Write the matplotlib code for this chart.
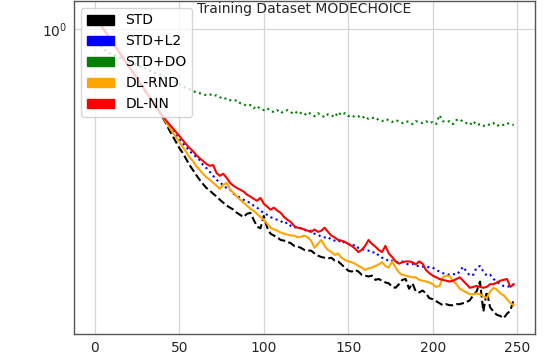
import matplotlib
matplotlib.use("Agg")
import matplotlib.pyplot as plt
import matplotlib.patches as mpatches

epochs = list(range(0, 250, 2))
labels = ["STD", "STD+L2", "STD+DO", "DL-RND", "DL-NN"]
colors = ["black", "blue", "green", "orange", "red"]

std = [1.097, 1.058, 1.020, 0.984, 0.948, 0.914, 0.881, 0.850, 0.819, 0.790,
       0.762, 0.734, 0.708, 0.682, 0.658, 0.634, 0.612, 0.590, 0.569, 0.548,
       0.524, 0.502, 0.477, 0.457, 0.437, 0.418, 0.403, 0.386, 0.369, 0.356,
       0.343, 0.331, 0.321, 0.312, 0.306, 0.299, 0.293, 0.286, 0.280, 0.274,
       0.270, 0.266, 0.260, 0.256, 0.252, 0.258, 0.260, 0.247, 0.235, 0.232,
       0.254, 0.233, 0.223, 0.220, 0.217, 0.213, 0.212, 0.210, 0.208, 0.204,
       0.203, 0.201, 0.198, 0.197, 0.197, 0.193, 0.190, 0.188, 0.187, 0.186,
       0.187, 0.183, 0.182, 0.178, 0.174, 0.170, 0.169, 0.171, 0.169, 0.165,
       0.164, 0.163, 0.164, 0.159, 0.160, 0.158, 0.156, 0.155, 0.151, 0.150,
       0.154, 0.159, 0.160, 0.149, 0.155, 0.146, 0.145, 0.147, 0.144, 0.139,
       0.138, 0.136, 0.134, 0.132, 0.133, 0.132, 0.132, 0.133, 0.133, 0.134,
       0.135, 0.137, 0.142, 0.146, 0.157, 0.126, 0.146, 0.130, 0.126, 0.123,
       0.122, 0.120, 0.124, 0.127, 0.138]

std_l2 = [1.097, 1.058, 1.020, 0.984, 0.948, 0.914, 0.881, 0.850, 0.819, 0.790,
          0.762, 0.734, 0.708, 0.682, 0.658, 0.634, 0.612, 0.590, 0.569, 0.548,
          0.528, 0.509, 0.491, 0.474, 0.460, 0.446, 0.433, 0.421, 0.409, 0.400,
          0.391, 0.383, 0.369, 0.361, 0.351, 0.341, 0.331, 0.326, 0.317, 0.312,
          0.308, 0.299, 0.295, 0.290, 0.286, 0.282, 0.280, 0.274, 0.270, 0.264,
          0.260, 0.256, 0.252, 0.249, 0.247, 0.245, 0.240, 0.242, 0.236, 0.233,
          0.235, 0.232, 0.230, 0.226, 0.228, 0.223, 0.2215, 0.218, 0.217, 0.218,
          0.213, 0.212, 0.210, 0.213, 0.208, 0.207, 0.204, 0.2057, 0.201, 0.200,
          0.198, 0.197, 0.194, 0.195, 0.190, 0.187, 0.186, 0.182, 0.183, 0.181,
          0.181, 0.182, 0.179, 0.178, 0.179, 0.176, 0.176, 0.175, 0.176, 0.174,
          0.174, 0.171, 0.169, 0.167, 0.166, 0.165, 0.166, 0.165, 0.169, 0.175,
          0.169, 0.164, 0.165, 0.174, 0.176, 0.169, 0.164, 0.165, 0.160, 0.157,
          0.154, 0.152, 0.151, 0.152, 0.154]

std_do = [0.950, 0.910, 0.881, 0.856, 0.843, 0.831, 0.825, 0.813, 0.807, 0.796,
          0.790, 0.778, 0.773, 0.762, 0.756, 0.750, 0.739, 0.734, 0.723, 0.718,
          0.708, 0.703, 0.692, 0.687, 0.677, 0.668, 0.658, 0.649, 0.644, 0.634,
          0.630, 0.625, 0.620, 0.616, 0.620, 0.612, 0.616, 0.607, 0.598, 0.603,
          0.594, 0.590, 0.594, 0.581, 0.577, 0.569, 0.573, 0.560, 0.569, 0.556,
          0.552, 0.560, 0.548, 0.544, 0.552, 0.540, 0.548, 0.552, 0.544, 0.536,
          0.548, 0.540, 0.532, 0.544, 0.536, 0.528, 0.540, 0.532, 0.524, 0.536,
          0.532, 0.524, 0.544, 0.532, 0.540, 0.528, 0.532, 0.524, 0.528, 0.520,
          0.528, 0.517, 0.520, 0.524, 0.513, 0.509, 0.517, 0.513, 0.506, 0.513,
          0.509, 0.502, 0.509, 0.506, 0.498, 0.509, 0.506, 0.502, 0.509, 0.502,
          0.506, 0.498, 0.532, 0.509, 0.506, 0.509, 0.498, 0.513, 0.517, 0.506,
          0.502, 0.495, 0.509, 0.495, 0.498, 0.491, 0.498, 0.495, 0.502, 0.491,
          0.498, 0.495, 0.502, 0.498, 0.495]

dl_rnd = [1.097, 1.058, 1.020, 0.984, 0.948, 0.914, 0.881, 0.850, 0.819, 0.790,
          0.762, 0.734, 0.708, 0.682, 0.658, 0.634, 0.612, 0.590, 0.569, 0.548,
          0.528, 0.506, 0.488, 0.470, 0.453, 0.437, 0.421, 0.406, 0.391, 0.380,
          0.366, 0.356, 0.346, 0.338, 0.331, 0.324, 0.317, 0.310, 0.319, 0.324,
          0.308, 0.301, 0.293, 0.286, 0.280, 0.274, 0.268, 0.264, 0.258, 0.252,
          0.247, 0.240, 0.233, 0.230, 0.228, 0.225, 0.223, 0.2215, 0.220, 0.220,
          0.217, 0.218, 0.220, 0.217, 0.212, 0.201, 0.207, 0.213, 0.204, 0.198,
          0.195, 0.191, 0.193, 0.187, 0.184, 0.182, 0.181, 0.179, 0.176, 0.174,
          0.171, 0.173, 0.174, 0.176, 0.178, 0.181, 0.176, 0.174, 0.182, 0.174,
          0.168, 0.165, 0.164, 0.163, 0.162, 0.162, 0.159, 0.158, 0.157, 0.156,
          0.154, 0.151, 0.152, 0.162, 0.164, 0.163, 0.158, 0.154, 0.149, 0.147,
          0.145, 0.143, 0.143, 0.144, 0.143, 0.141, 0.139, 0.146, 0.150, 0.148,
          0.144, 0.142, 0.138, 0.134, 0.132]

dl_nn = [1.097, 1.058, 1.020, 0.984, 0.948, 0.914, 0.881, 0.850, 0.819, 0.790,
         0.762, 0.734, 0.708, 0.682, 0.658, 0.634, 0.612, 0.590, 0.569, 0.548,
         0.528, 0.513, 0.498, 0.484, 0.470, 0.457, 0.443, 0.430, 0.418, 0.409,
         0.397, 0.388, 0.380, 0.372, 0.367, 0.369, 0.348, 0.341, 0.346, 0.336,
         0.324, 0.317, 0.312, 0.308, 0.304, 0.297, 0.293, 0.288, 0.284, 0.290,
         0.278, 0.272, 0.266, 0.270, 0.264, 0.260, 0.252, 0.247, 0.243, 0.236,
         0.233, 0.232, 0.230, 0.228, 0.226, 0.230, 0.226, 0.228, 0.233, 0.226,
         0.220, 0.217, 0.213, 0.212, 0.210, 0.207, 0.204, 0.200, 0.195, 0.198,
         0.204, 0.213, 0.207, 0.203, 0.198, 0.195, 0.204, 0.193, 0.188, 0.182,
         0.179, 0.181, 0.182, 0.182, 0.181, 0.178, 0.182, 0.179, 0.171, 0.167,
         0.164, 0.162, 0.160, 0.159, 0.158, 0.157, 0.158, 0.160, 0.162, 0.158,
         0.154, 0.150, 0.151, 0.152, 0.151, 0.150, 0.151, 0.154, 0.154, 0.156,
         0.158, 0.159, 0.160, 0.151, 0.154]

series = [std, std_l2, std_do, dl_rnd, dl_nn]
styles = ["--", ":", ":", "-", "-"]
for s in series:
    if len(s) != len(epochs):
        raise ValueError(f"length {len(s)} != {len(epochs)}")

plt.rcParams["font.family"] = ["DejaVu Sans"]
plt.rcParams["font.size"] = 10

fig = plt.figure(figsize=(5.52, 3.56), dpi=100)
ax = fig.add_axes([74 / 552, 22.4 / 356, 460.7 / 552, 332.6 / 356])

for vals, c, ls in zip(series, colors, styles):
    ax.plot(epochs, vals, color=c, linestyle=ls, linewidth=1.5)

ax.set_yscale("log")
ax.set_ylim(0.1072, 1.229)
ax.set_xticks([0, 50, 100, 150, 200, 250])
ax.grid(True, which="major", color="#d5d5d5", linewidth=0.9)
ax.set_axisbelow(True)
ax.tick_params(axis="both", which="both", length=0, labelsize=10,
               labelcolor="#262626", pad=5)
for sp in ax.spines.values():
    sp.set_color("#555555")
    sp.set_linewidth(1.0)

handles = [mpatches.Patch(color=c, label=l) for c, l in zip(colors, labels)]
ax.legend(handles=handles, loc="upper left", fontsize=10, framealpha=0.8,
          edgecolor="#cccccc")

ax.text(0.5, 1 - 11.5 / 332.6, "Training Dataset MODECHOICE",
        transform=ax.transAxes, ha="center", va="baseline",
        fontsize=10, color="#262626")

fig.savefig("out.png", dpi=100)
